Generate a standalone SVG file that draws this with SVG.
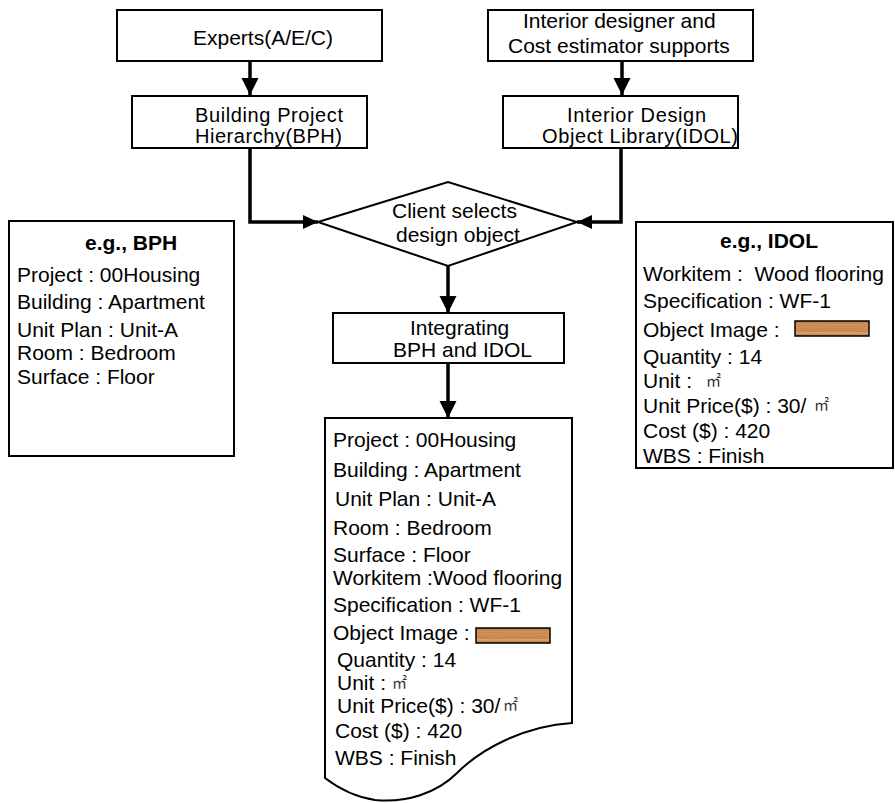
<svg xmlns="http://www.w3.org/2000/svg" xmlns:xlink="http://www.w3.org/1999/xlink" width="895" height="803" viewBox="0 0 895 803">
  <style>
    text { font-family: "Liberation Sans", Arial, sans-serif; font-size: 21px; fill: #000; white-space: pre; }
    .b { font-weight: bold; }
    .tight { font-size: 20px; }
    .unit { font-family: "Noto Sans CJK KR", "Noto Sans CJK JP", sans-serif; font-size: 15px; fill: #333; }
    .box { fill: #fff; stroke: #000; stroke-width: 2; }
    .conn { fill: none; stroke: #000; stroke-width: 3.5; }
  </style>
  <defs>
    <marker id="arrow" markerUnits="userSpaceOnUse" markerWidth="18" markerHeight="18" refX="17" refY="8.5" orient="auto">
      <path d="M0,0 L17,8.5 L0,17 z" fill="#000"/>
    </marker>
    <marker id="arrowS" markerUnits="userSpaceOnUse" markerWidth="16" markerHeight="14" refX="15" refY="7" orient="auto">
      <path d="M0,0 L15,7 L0,14 z" fill="#000"/>
    </marker>
    <linearGradient id="woodGrad" x1="0" y1="0" x2="0" y2="1">
      <stop offset="0" stop-color="#b8743e"/>
      <stop offset="0.3" stop-color="#d69a62"/>
      <stop offset="0.55" stop-color="#c9854d"/>
      <stop offset="0.8" stop-color="#dba56e"/>
      <stop offset="1" stop-color="#b06d38"/>
    </linearGradient>
    <!-- wood flooring swatch, 74 x 15 -->
    <g id="wood">
      <rect x="0" y="0" width="74" height="15" fill="url(#woodGrad)" stroke="#000" stroke-width="1.5"/>
      <path d="M2,5 C20,4 40,6 72,5 M2,10 C25,11 50,9 72,10.5" fill="none" stroke="#a9632f" stroke-width="0.7" opacity="0.7"/>
    </g>
  </defs>

  <!-- connectors -->
  <g id="connectors">
    <path class="conn" d="M250,61 V95" marker-end="url(#arrow)"/>
    <path class="conn" d="M622,61 V95" marker-end="url(#arrow)"/>
    <path class="conn" d="M250,148 V222 H318" marker-end="url(#arrowS)"/>
    <path class="conn" d="M621,148 V222 H577" marker-end="url(#arrowS)"/>
    <path class="conn" d="M448,266 V313" marker-end="url(#arrow)"/>
    <path class="conn" d="M448,363 V418" marker-end="url(#arrow)"/>
  </g>

  <g id="experts">
    <rect class="box" x="117" y="10" width="265" height="51"/>
    <text x="193" y="45">Experts(A/E/C)</text>
  </g>

  <g id="interior-support">
    <rect class="box" x="488" y="10" width="265" height="51"/>
    <text x="523" y="28">Interior designer and</text>
    <text x="508" y="53">Cost estimator supports</text>
  </g>

  <g id="bph">
    <rect class="box" x="132" y="96" width="235" height="52"/>
    <text class="tight" x="195" y="122" textLength="148">Building Project</text>
    <text class="tight" x="195" y="143" textLength="147">Hierarchy(BPH)</text>
  </g>

  <g id="idol">
    <rect class="box" x="503" y="96" width="235" height="52"/>
    <text class="tight" x="567" y="122" textLength="139">Interior Design</text>
    <text class="tight" x="542" y="143" textLength="196">Object Library(IDOL)</text>
  </g>

  <g id="client-selects">
    <path class="box" d="M318,222 L448,182 L577,222 L448,266 Z"/>
    <text x="392" y="218">Client selects</text>
    <text x="396" y="242">design object</text>
  </g>

  <g id="integrating">
    <rect class="box" x="333" y="313" width="231" height="50"/>
    <text x="410" y="335">Integrating</text>
    <text x="393" y="357">BPH and IDOL</text>
  </g>

  <g id="bph-example">
    <rect class="box" x="9" y="221" width="225" height="235"/>
    <text class="b" x="85" y="250">e.g., BPH</text>
    <text x="17" y="282">Project : 00Housing</text>
    <text x="17" y="309">Building : Apartment</text>
    <text x="17" y="337">Unit Plan : Unit-A</text>
    <text x="17" y="360">Room : Bedroom</text>
    <text x="17" y="384">Surface : Floor</text>
  </g>

  <g id="idol-example">
    <rect class="box" x="636" y="222" width="257" height="246"/>
    <text class="b" x="720" y="248">e.g., IDOL</text>
    <text x="643" y="281">Workitem :  Wood flooring</text>
    <text x="643" y="308">Specification : WF-1</text>
    <text x="643" y="337">Object Image :</text>
    <use xlink:href="#wood" x="795" y="321"/>
    <text x="643" y="364">Quantity : 14</text>
    <text x="643" y="388">Unit :</text>
    <text class="unit" x="706" y="386">㎡</text>
    <text x="643" y="413">Unit Price($) : 30/</text>
    <text class="unit" x="814" y="410">㎡</text>
    <text x="643" y="438">Cost ($) : 420</text>
    <text x="643" y="463">WBS : Finish</text>
  </g>

  <g id="result-document">
    <path class="box" d="M325,418 H572 V723 C525,726 482,748 457,773 C436,794 405,803 375,800 C355,797 338,788 325,778 Z"/>
    <text x="333" y="447">Project : 00Housing</text>
    <text x="333" y="477">Building : Apartment</text>
    <text x="335" y="506">Unit Plan : Unit-A</text>
    <text x="333" y="535">Room : Bedroom</text>
    <text x="333" y="562">Surface : Floor</text>
    <text x="333" y="585">Workitem :Wood flooring</text>
    <text x="333" y="612">Specification : WF-1</text>
    <text x="333" y="640">Object Image :</text>
    <use xlink:href="#wood" x="476" y="628"/>
    <text x="337" y="667">Quantity : 14</text>
    <text x="337" y="690">Unit :</text>
    <text class="unit" x="392" y="688">㎡</text>
    <text x="337" y="713">Unit Price($) : 30/</text>
    <text class="unit" x="503" y="710">㎡</text>
    <text x="335" y="738">Cost ($) : 420</text>
    <text x="335" y="765">WBS : Finish</text>
  </g>
</svg>
